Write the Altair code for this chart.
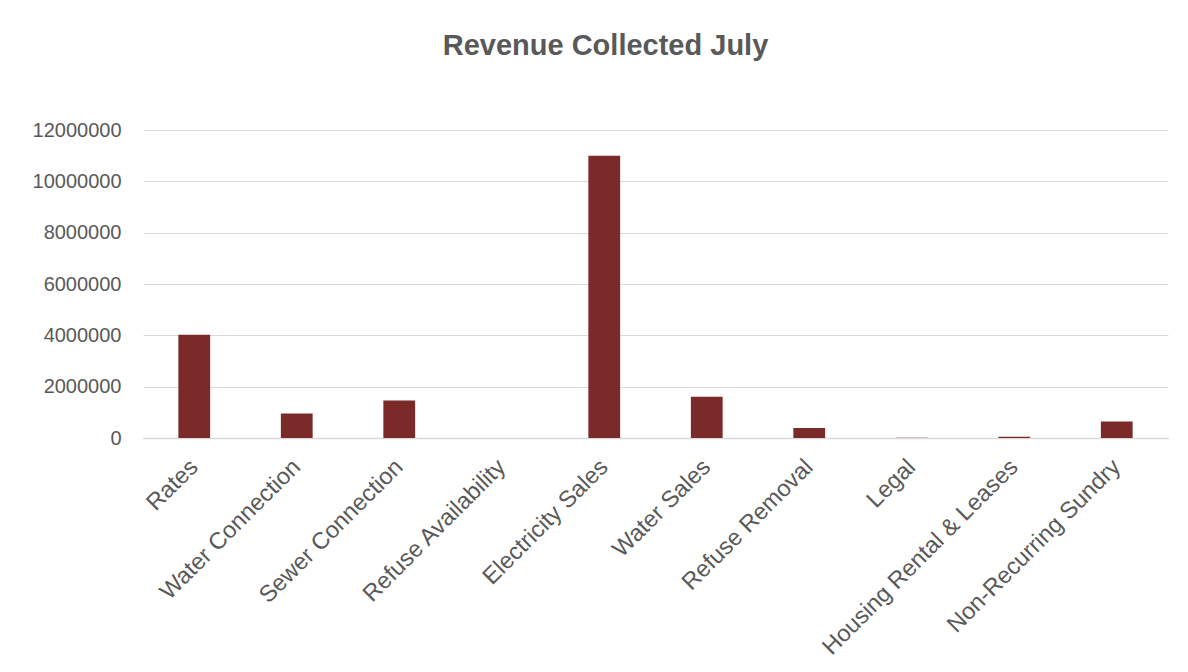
import altair as alt
import pandas as pd

categories = [
    "Rates", "Water Connection", "Sewer Connection", "Refuse Availability",
    "Electricity Sales", "Water Sales", "Refuse Removal", "Legal",
    "Housing Rental & Leases", "Non-Recurring Sundry",
]
revenue = [4020000, 950000, 1460000, 0, 11000000, 1610000, 390000, 5000, 50000, 640000]
y_ticks = [0, 2000000, 4000000, 6000000, 8000000, 10000000, 12000000]

df = pd.DataFrame({"Category": categories, "Revenue": revenue})

FONT = "Liberation Sans"
GRAY = "#595959"

chart = (
    alt.Chart(df)
    .mark_bar(color="#7B2A2A")
    .encode(
        x=alt.X(
            "Category:N",
            sort=categories,
            title=None,
            scale=alt.Scale(paddingInner=0.69, paddingOuter=0.345),
            axis=alt.Axis(
                labelAngle=-45,
                labelAlign="right",
                labelBaseline="middle",
                labelPadding=25,
                labelFontSize=23.5,
                labelColor=GRAY,
                labelFont=FONT,
                ticks=False,
                domainColor="#d9d9d9",
                domainWidth=1.5,
                labelOverlap=False,
                labelLimit=400,
            ),
        ),
        y=alt.Y(
            "Revenue:Q",
            title=None,
            scale=alt.Scale(domain=[0, 12000000], nice=False),
            axis=alt.Axis(
                values=y_ticks,
                format="d",
                labelFontSize=20,
                labelColor=GRAY,
                labelFont=FONT,
                labelPadding=22,
                ticks=False,
                domain=False,
                gridColor="#d9d9d9",
                gridWidth=1.2,
            ),
        ),
    )
    .properties(
        width=1025,
        height=308,
        title=alt.TitleParams(
            "Revenue Collected July",
            font=FONT,
            fontSize=29,
            fontWeight="bold",
            color=GRAY,
            anchor="middle",
            dx=-50,
            offset=59,
        ),
        autosize=alt.AutoSizeParams(type="none"),
        padding={"left": 135, "top": 122, "right": 12, "bottom": 226},
        background="white",
    )
    .configure_view(stroke=None)
)

chart.save("out.html", embed_options={"renderer": "svg", "actions": False})
